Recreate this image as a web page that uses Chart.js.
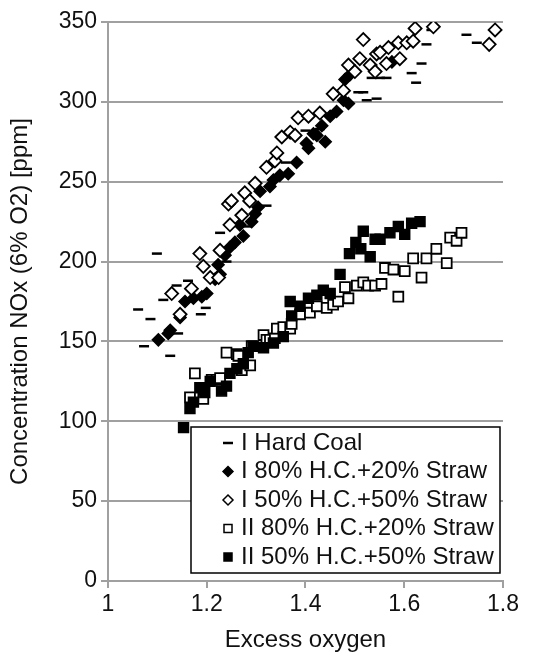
<!DOCTYPE html>
<html lang="en">
<head>
    <meta charset="UTF-8">
    <title>NOx vs Excess oxygen</title>
    <script src="https://cdn.jsdelivr.net/npm/chart.js"></script>
    <style>
        body { margin: 0; background: #fff; }
        #noxChart { display: block; }
    </style>
</head>
<body>
    <canvas id="noxChart" width="544" height="657"></canvas>

    <script>
        // Series labels (legend order)
        const seriesLabels = [
            'I Hard Coal',
            'I 80% H.C.+20% Straw',
            'I 50% H.C.+50% Straw',
            'II 80% H.C.+20% Straw',
            'II 50% H.C.+50% Straw'
        ];

        // I Hard Coal (dash markers)
        const hardCoalX = [1.061, 1.073, 1.086, 1.099, 1.112, 1.126, 1.139, 1.142, 1.162, 1.188, 1.198, 1.227, 1.24, 1.28, 1.321, 1.36, 1.40, 1.429,
            1.507, 1.517, 1.524, 1.544, 1.534, 1.551, 1.564, 1.615, 1.624, 1.635, 1.645, 1.655, 1.726, 1.747];
        const hardCoalY = [170, 147, 164, 205, 176, 141, 185, 155, 188, 167, 171, 218, 200, 222, 235, 262, 282, 283,
            306, 306, 301, 302, 315, 315, 315, 318, 312, 324, 336, 345, 342, 337];

        // I 80% H.C. + 20% Straw (filled diamonds)
        const i80X = [1.102, 1.122, 1.126, 1.146, 1.156, 1.173, 1.19, 1.2, 1.217, 1.227, 1.223, 1.237, 1.247, 1.257, 1.267, 1.274, 1.291, 1.298,
            1.304, 1.308, 1.328, 1.335, 1.348, 1.365, 1.382, 1.402, 1.406, 1.416, 1.423, 1.433, 1.44, 1.45, 1.463, 1.477, 1.487, 1.48, 1.49, 1.575];
        const i80Y = [151, 155, 157, 165, 175, 177, 178, 180, 189, 192, 198, 204, 209, 212, 223, 216, 225, 230,
            234, 244, 247, 251, 254, 255, 262, 274, 271, 280, 279, 285, 275, 291, 294, 301, 299, 314, 317, 325];

        // I 50% H.C. + 50% Straw (open diamonds)
        const i50X = [1.129, 1.146, 1.169, 1.186, 1.193, 1.207, 1.224, 1.227, 1.244, 1.247, 1.25, 1.271, 1.277, 1.287, 1.298, 1.321, 1.338, 1.342,
            1.352, 1.369, 1.379, 1.385, 1.406, 1.429, 1.456, 1.477, 1.487, 1.5, 1.51, 1.517, 1.531, 1.541, 1.544, 1.551, 1.564, 1.568,
            1.588, 1.591, 1.605, 1.618, 1.622, 1.659, 1.772, 1.784];
        const i50Y = [180, 167, 183, 205, 197, 190, 190, 207, 236, 223, 238, 229, 243, 238, 249, 259, 263, 268,
            278, 281, 279, 290, 291, 293, 305, 307, 323, 319, 327, 339, 323, 319, 330, 331, 324, 334,
            337, 327, 337, 338, 346, 347, 336, 345];

        // II 80% H.C. + 20% Straw (open squares)
        const ii80X = [1.166, 1.176, 1.193, 1.21, 1.22, 1.227, 1.24, 1.261, 1.264, 1.271, 1.288, 1.291, 1.315, 1.321, 1.328, 1.338, 1.342, 1.355,
            1.369, 1.372, 1.389, 1.409, 1.423, 1.443, 1.456, 1.466, 1.487, 1.48, 1.504, 1.517, 1.527, 1.541, 1.554, 1.561, 1.578,
            1.588, 1.601, 1.618, 1.635, 1.645, 1.665, 1.686, 1.693, 1.706, 1.716];
        const ii80Y = [115, 130, 114, 126, 126, 127, 143, 142, 141, 132, 135, 147, 154, 151, 151, 152, 158, 159,
            158, 161, 167, 168, 172, 171, 173, 175, 177, 184, 185, 187, 185, 185, 186, 196, 195,
            178, 194, 202, 190, 202, 208, 199, 215, 213, 218];

        // II 50% H.C. + 50% Straw (filled squares)
        const ii50X = [1.153, 1.166, 1.173, 1.186, 1.196, 1.207, 1.23, 1.24, 1.247, 1.261, 1.274, 1.284, 1.294, 1.315, 1.335, 1.355, 1.372, 1.369,
            1.389, 1.406, 1.423, 1.436, 1.45, 1.47, 1.489, 1.502, 1.517, 1.512, 1.531, 1.541, 1.551, 1.571, 1.588, 1.601, 1.615, 1.632];
        const ii50Y = [96, 108, 112, 121, 118, 125, 119, 122, 130, 133, 136, 143, 147, 146, 149, 153, 166, 175,
            172, 177, 179, 182, 180, 192, 205, 212, 219, 208, 203, 214, 214, 218, 222, 217, 224, 225];

        // Axis ticks
        const xTicks = [1, 1.2, 1.4, 1.6, 1.8];
        const yTicks = [0, 50, 100, 150, 200, 250, 300, 350];

        function toPoints(xs, ys) {
            return xs.map((x, i) => ({ x: x, y: ys[i] }));
        }

        const FONT = '"Liberation Sans", Arial, sans-serif';
        Chart.defaults.font.family = FONT;
        Chart.defaults.color = '#111';

        // legend drawn as a boxed panel inside the plot
        const legendPanel = {
            id: 'legendPanel',
            afterDraw(chart) {
                const ctx = chart.ctx;
                const left = 191, top = 427, width = 309, height = 146;
                ctx.save();
                ctx.fillStyle = '#fff';
                ctx.fillRect(left, top, width, height);
                ctx.strokeStyle = '#000';
                ctx.lineWidth = 1.5;
                ctx.strokeRect(left, top, width, height);
                ctx.font = '24px ' + FONT;
                ctx.textBaseline = 'middle';
                chart.data.datasets.forEach((ds, i) => {
                    const cy = top + 16 + i * 28.5;
                    const cx = 228;
                    ctx.fillStyle = ds.backgroundColor;
                    ctx.strokeStyle = '#000';
                    ctx.lineWidth = 1.5;
                    ctx.beginPath();
                    if (ds.pointStyle === 'line') {
                        ctx.lineWidth = 2.5;
                        ctx.moveTo(cx - 5, cy);
                        ctx.lineTo(cx + 5, cy);
                        ctx.stroke();
                    } else if (ds.pointStyle === 'rectRot') {
                        ctx.moveTo(cx, cy - 5);
                        ctx.lineTo(cx + 5, cy);
                        ctx.lineTo(cx, cy + 5);
                        ctx.lineTo(cx - 5, cy);
                        ctx.closePath();
                        ctx.fill();
                        ctx.stroke();
                    } else {
                        ctx.rect(cx - 4, cy - 4, 8, 8);
                        ctx.fill();
                        ctx.stroke();
                    }
                    ctx.fillStyle = '#111';
                    ctx.fillText(ds.label, 241, cy);
                });
                ctx.restore();
            }
        };

        const ctx = document.getElementById('noxChart').getContext('2d');
        new Chart(ctx, {
            type: 'scatter',
            data: {
                datasets: [
                    {
                        label: seriesLabels[0],
                        data: toPoints(hardCoalX, hardCoalY),
                        pointStyle: 'line',
                        pointRadius: 5,
                        borderColor: '#000',
                        backgroundColor: '#000',
                        borderWidth: 2.5,
                        order: 5
                    },
                    {
                        label: seriesLabels[1],
                        data: toPoints(i80X, i80Y),
                        pointStyle: 'rectRot',
                        pointRadius: 6,
                        borderColor: '#000',
                        backgroundColor: '#000',
                        borderWidth: 1.5,
                        order: 4
                    },
                    {
                        label: seriesLabels[2],
                        data: toPoints(i50X, i50Y),
                        pointStyle: 'rectRot',
                        pointRadius: 6.5,
                        borderColor: '#000',
                        backgroundColor: '#fff',
                        borderWidth: 1.8,
                        order: 3
                    },
                    {
                        label: seriesLabels[3],
                        data: toPoints(ii80X, ii80Y),
                        pointStyle: 'rect',
                        pointRadius: 7,
                        borderColor: '#000',
                        backgroundColor: '#fff',
                        borderWidth: 1.8,
                        order: 2
                    },
                    {
                        label: seriesLabels[4],
                        data: toPoints(ii50X, ii50Y),
                        pointStyle: 'rect',
                        pointRadius: 7,
                        borderColor: '#000',
                        backgroundColor: '#000',
                        borderWidth: 1.5,
                        order: 1
                    }
                ]
            },
            options: {
                responsive: false,
                animation: false,
                devicePixelRatio: 1,
                layout: { padding: { top: 22, right: 41, bottom: 0, left: 0 } },
                plugins: {
                    legend: { display: false },
                    tooltip: { enabled: false }
                },
                scales: {
                    x: {
                        type: 'linear',
                        min: 1,
                        max: 1.8,
                        afterBuildTicks: axis => { axis.ticks = xTicks.map(v => ({ value: v })); },
                        afterFit: axis => { axis.height = 76; },
                        ticks: {
                            font: { size: 23 },
                            color: '#111',
                            padding: 3,
                            callback: v => String(v)
                        },
                        grid: {
                            drawOnChartArea: false,
                            drawTicks: true,
                            tickLength: 7,
                            color: '#a0a0a0',
                            lineWidth: 2
                        },
                        border: { color: '#a0a0a0', width: 2 },
                        title: {
                            display: true,
                            text: 'Excess oxygen',
                            font: { size: 24 },
                            color: '#111',
                            padding: { top: 0, bottom: 2 }
                        }
                    },
                    y: {
                        min: 0,
                        max: 350,
                        afterBuildTicks: axis => { axis.ticks = yTicks.map(v => ({ value: v })); },
                        afterFit: axis => { axis.width = 108; },
                        ticks: {
                            font: { size: 23 },
                            color: '#111',
                            padding: 4
                        },
                        grid: {
                            color: '#a0a0a0',
                            lineWidth: 2,
                            tickLength: 7
                        },
                        border: { color: '#a0a0a0', width: 2 },
                        title: {
                            display: true,
                            text: 'Concentration NOx (6% O2) [ppm]',
                            font: { size: 24 },
                            color: '#111',
                            padding: { top: 6, bottom: 0 }
                        }
                    }
                }
            },
            plugins: [legendPanel]
        });
    </script>
</body>
</html>
